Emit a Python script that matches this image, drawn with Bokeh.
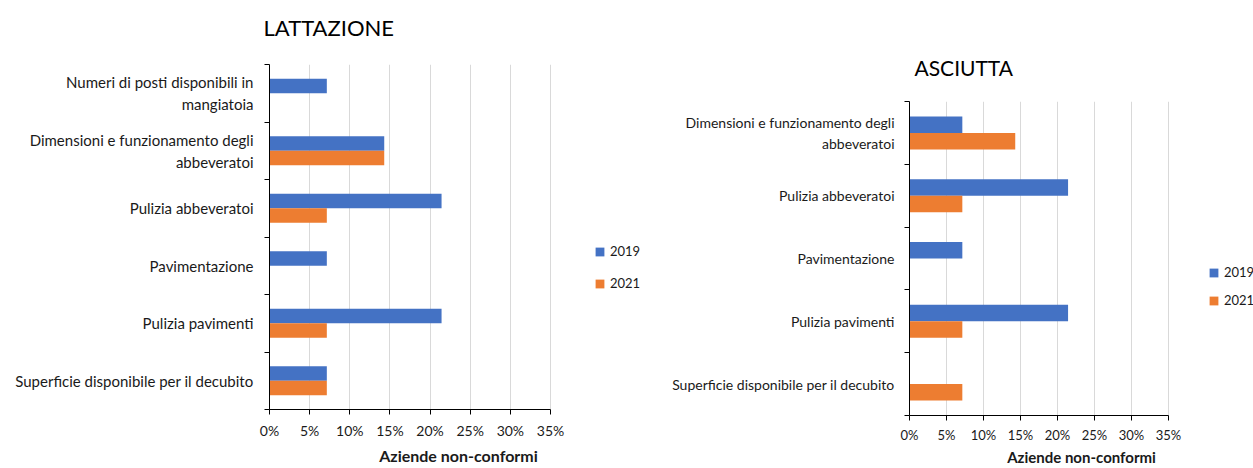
from bokeh.plotting import figure
from bokeh.models import (Range1d, FixedTicker, NumeralTickFormatter, Legend, LegendItem,
                          ColumnDataSource, Title)
from bokeh.layouts import row, column
from bokeh.transform import dodge
from bokeh.embed import file_html
from bokeh.resources import INLINE

FONT = "Lato"
BLUE = "#4472C4"
ORANGE = "#ED7D31"
TEXT = "#1a1a1a"

# ---- data ----
years = ["2019", "2021"]
x_ticks = [0.0, 0.05, 0.10, 0.15, 0.20, 0.25, 0.30, 0.35]
x_axis_label = "Aziende non-conformi"

lat_title = "LATTAZIONE"
lat_categories = [
    "Numeri di posti disponibili in\nmangiatoia",
    "Dimensioni e funzionamento degli\nabbeveratoi",
    "Pulizia abbeveratoi",
    "Pavimentazione",
    "Pulizia pavimenti",
    "Superficie disponibile per il decubito",
]
lat_2019 = [0.0714, 0.1429, 0.2143, 0.0714, 0.2143, 0.0714]
lat_2021 = [0.0, 0.1429, 0.0714, 0.0, 0.0714, 0.0714]

asc_title = "ASCIUTTA"
asc_categories = [
    "Dimensioni e funzionamento degli\nabbeveratoi",
    "Pulizia abbeveratoi",
    "Pavimentazione",
    "Pulizia pavimenti",
    "Superficie disponibile per il decubito",
]
asc_2019 = [0.0714, 0.2143, 0.0714, 0.2143, 0.0]
asc_2021 = [0.1429, 0.0714, 0.0, 0.0714, 0.0714]


def make_panel(title, cats, v19, v21, width, height, b_left, b_top, b_bottom,
               x_end, bar_h, title_size, title_offset, gap_standoff,
               label_size, label_standoff, tick_size, tick_standoff,
               axis_label_size, axis_label_standoff, legend_loc, legend_spacing):
    n = len(cats)
    ypos = [n - i - 0.5 for i in range(n)]
    src = ColumnDataSource(dict(y=ypos, v19=v19, v21=v21))
    p = figure(width=width, height=height, x_range=Range1d(0, x_end),
               y_range=Range1d(0, n), output_backend="svg", toolbar_location=None,
               min_border_left=b_left, min_border_right=0, min_border_top=b_top,
               min_border_bottom=b_bottom, title_location=None)
    p.outline_line_color = None

    # spacer between frame and title, then the title itself (stacked outward)
    p.add_layout(Title(text=" ", text_font=FONT, text_font_size="10px",
                       standoff=gap_standoff), "above")
    p.add_layout(Title(text=title, text_font=FONT, text_font_size=title_size,
                       text_font_style="normal", text_color="#000000",
                       align="left", offset=title_offset, standoff=0), "above")

    r19 = p.hbar(y=dodge("y", bar_h / 2, range=p.y_range), left=0, right="v19",
                 height=bar_h, source=src, fill_color=BLUE, line_color=None)
    r21 = p.hbar(y=dodge("y", -bar_h / 2, range=p.y_range), left=0, right="v21",
                 height=bar_h, source=src, fill_color=ORANGE, line_color=None)

    # x axis (drawn only over 0..35%)
    p.xaxis.bounds = (x_ticks[0], x_ticks[-1])
    p.xaxis.ticker = FixedTicker(ticks=x_ticks)
    p.xaxis.formatter = NumeralTickFormatter(format="0%")
    p.xaxis.axis_label = x_axis_label
    p.xaxis.axis_label_text_font = FONT
    p.xaxis.axis_label_text_font_style = "bold"
    p.xaxis.axis_label_text_font_size = axis_label_size
    p.xaxis.axis_label_text_color = TEXT
    p.xaxis.axis_label_standoff = axis_label_standoff
    p.xaxis.major_label_text_font = FONT
    p.xaxis.major_label_text_font_size = tick_size
    p.xaxis.major_label_text_color = TEXT
    p.xaxis.major_label_standoff = tick_standoff
    p.xaxis.major_tick_out = 5
    p.xaxis.major_tick_in = 0
    p.xaxis.minor_tick_out = 0
    p.xaxis.minor_tick_in = 0
    p.xaxis.axis_line_color = "#000000"
    p.xaxis.major_tick_line_color = "#000000"

    # y axis: labels at category centres, tick marks at band boundaries
    p.yaxis.ticker = FixedTicker(ticks=ypos, minor_ticks=list(range(n + 1)))
    p.yaxis.major_label_overrides = {y: c for y, c in zip(ypos, cats)}
    p.yaxis.major_tick_out = 0
    p.yaxis.major_tick_in = 0
    p.yaxis.minor_tick_out = 5
    p.yaxis.minor_tick_in = 0
    p.yaxis.minor_tick_line_color = "#000000"
    p.yaxis.axis_line_color = "#000000"
    p.yaxis.major_label_standoff = label_standoff
    p.yaxis.major_label_text_font = FONT
    p.yaxis.major_label_text_font_size = label_size
    p.yaxis.major_label_text_color = TEXT

    p.ygrid.visible = False
    p.xgrid.grid_line_color = "#d9d9d9"
    p.xgrid.grid_line_width = 1

    legend = Legend(items=[LegendItem(label=years[0], renderers=[r19]),
                           LegendItem(label=years[1], renderers=[r21])],
                    location=legend_loc, orientation="vertical")
    legend.border_line_color = None
    legend.background_fill_alpha = 0
    legend.padding = 0
    legend.margin = 0
    legend.spacing = legend_spacing
    legend.label_height = 20
    legend.glyph_height = 11
    legend.glyph_width = 11
    legend.label_standoff = 5
    legend.label_text_font = FONT
    legend.label_text_font_size = "13px"
    legend.label_text_color = TEXT
    p.add_layout(legend)
    return p


left = make_panel(lat_title, lat_categories, lat_2019, lat_2021,
                  width=647, height=468, b_left=269, b_top=64, b_bottom=59,
                  x_end=0.4708, bar_h=0.252, title_size="22px", title_offset=-6,
                  gap_standoff=10, label_size="15px", label_standoff=11,
                  tick_size="14px", tick_standoff=7,
                  axis_label_size="16px", axis_label_standoff=4,
                  legend_loc=(325, 116), legend_spacing=12)

right = make_panel(asc_title, asc_categories, asc_2019, asc_2021,
                   width=606, height=468, b_left=262, b_top=101, b_bottom=53,
                   x_end=0.4649, bar_h=0.263, title_size="21px", title_offset=5,
                   gap_standoff=8, label_size="14px", label_standoff=10,
                   tick_size="13px", tick_standoff=6,
                   axis_label_size="15px", axis_label_standoff=2,
                   legend_loc=(299, 105), legend_spacing=8)

layout = row(column(left), column(right))
open("out.html", "w").write(file_html(layout, INLINE))
